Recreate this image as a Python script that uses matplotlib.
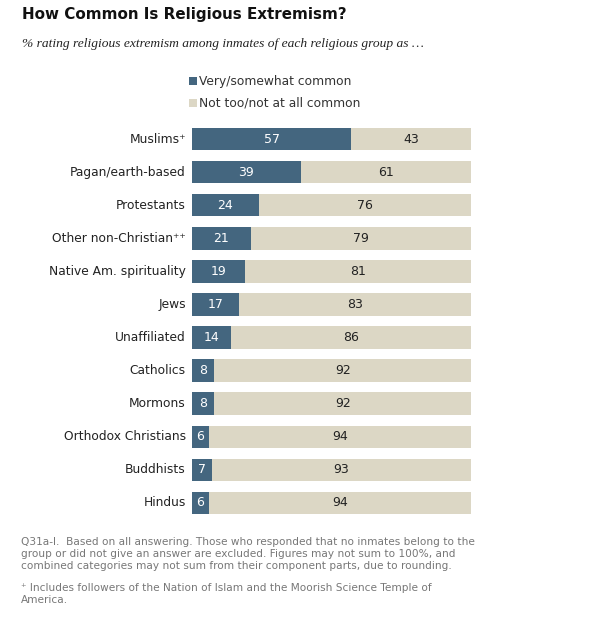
import matplotlib.pyplot as plt
import matplotlib.patches as mpatches

categories = ["Muslims\u207a", "Pagan/earth-based", "Protestants", "Other non-Christian\u207a\u207a",
              "Native Am. spirituality", "Jews", "Unaffiliated", "Catholics", "Mormons",
              "Orthodox Christians", "Buddhists", "Hindus"]
common = [57, 39, 24, 21, 19, 17, 14, 8, 8, 6, 7, 6]
not_common = [43, 61, 76, 79, 81, 83, 86, 92, 92, 94, 93, 94]
series_names = ["Very/somewhat common", "Not too/not at all common"]

dark = "#44667f"
light = "#dcd7c5"

W, H = 590, 617
fig = plt.figure(figsize=(W/100, H/100), dpi=100)
fig.patch.set_facecolor("white")

ax = fig.add_axes([192/W, 1-519.5/H, 279/W, 397/H])
y = list(range(len(categories)))
ax.barh(y, common, height=0.68, color=dark, linewidth=0)
ax.barh(y, not_common, left=common, height=0.68, color=light, linewidth=0)
ax.set_ylim(len(categories)-0.5, -0.5)
ax.set_xlim(0, 100)
ax.axis("off")

for i, (c, n) in enumerate(zip(common, not_common)):
    ax.text(c/2, i, str(c), ha="center", va="center", color="white", fontsize=9,
            family="DejaVu Sans")
    ax.text(c + n/2, i, str(n), ha="center", va="center", color="#222222", fontsize=9,
            family="DejaVu Sans")
    ax.text(-2.2, i, categories[i], ha="right", va="center", color="#222222", fontsize=8.8,
            family="DejaVu Sans")

fig.text(22/W, 1-15/H, "How Common Is Religious Extremism?", fontsize=10.9, fontweight="bold",
         family="DejaVu Sans", va="center", ha="left", color="#111111")
fig.text(22/W, 1-44/H, "% rating religious extremism among inmates of each religious group as \u2026",
         fontsize=9.7, style="italic", family="Liberation Serif", va="center", ha="left", color="#222222")

# legend
for k, (name, col) in enumerate(zip(series_names, [dark, light])):
    yy = 81 + k*22
    fig.patches.append(mpatches.Rectangle((189/W, 1-(yy+4)/H), 8/W, 8/H, transform=fig.transFigure,
                                          facecolor=col, edgecolor="none"))
    fig.text(199/W, 1-yy/H, name, fontsize=8.8, family="DejaVu Sans", va="center", ha="left",
             color="#333333")

foot1 = ("Q31a-l.  Based on all answering. Those who responded that no inmates belong to the\n"
         "group or did not give an answer are excluded. Figures may not sum to 100%, and\n"
         "combined categories may not sum from their component parts, due to rounding.")
fig.text(21/W, 1-537/H, foot1, fontsize=7.6, family="DejaVu Sans", va="top", ha="left",
         color="#777777", linespacing=1.22)
foot2 = "\u207a Includes followers of the Nation of Islam and the Moorish Science Temple of\nAmerica."
fig.text(21/W, 1-583/H, foot2, fontsize=7.6, family="DejaVu Sans", va="top", ha="left",
         color="#777777", linespacing=1.22)

fig.savefig("out.png", dpi=100, facecolor="white")
